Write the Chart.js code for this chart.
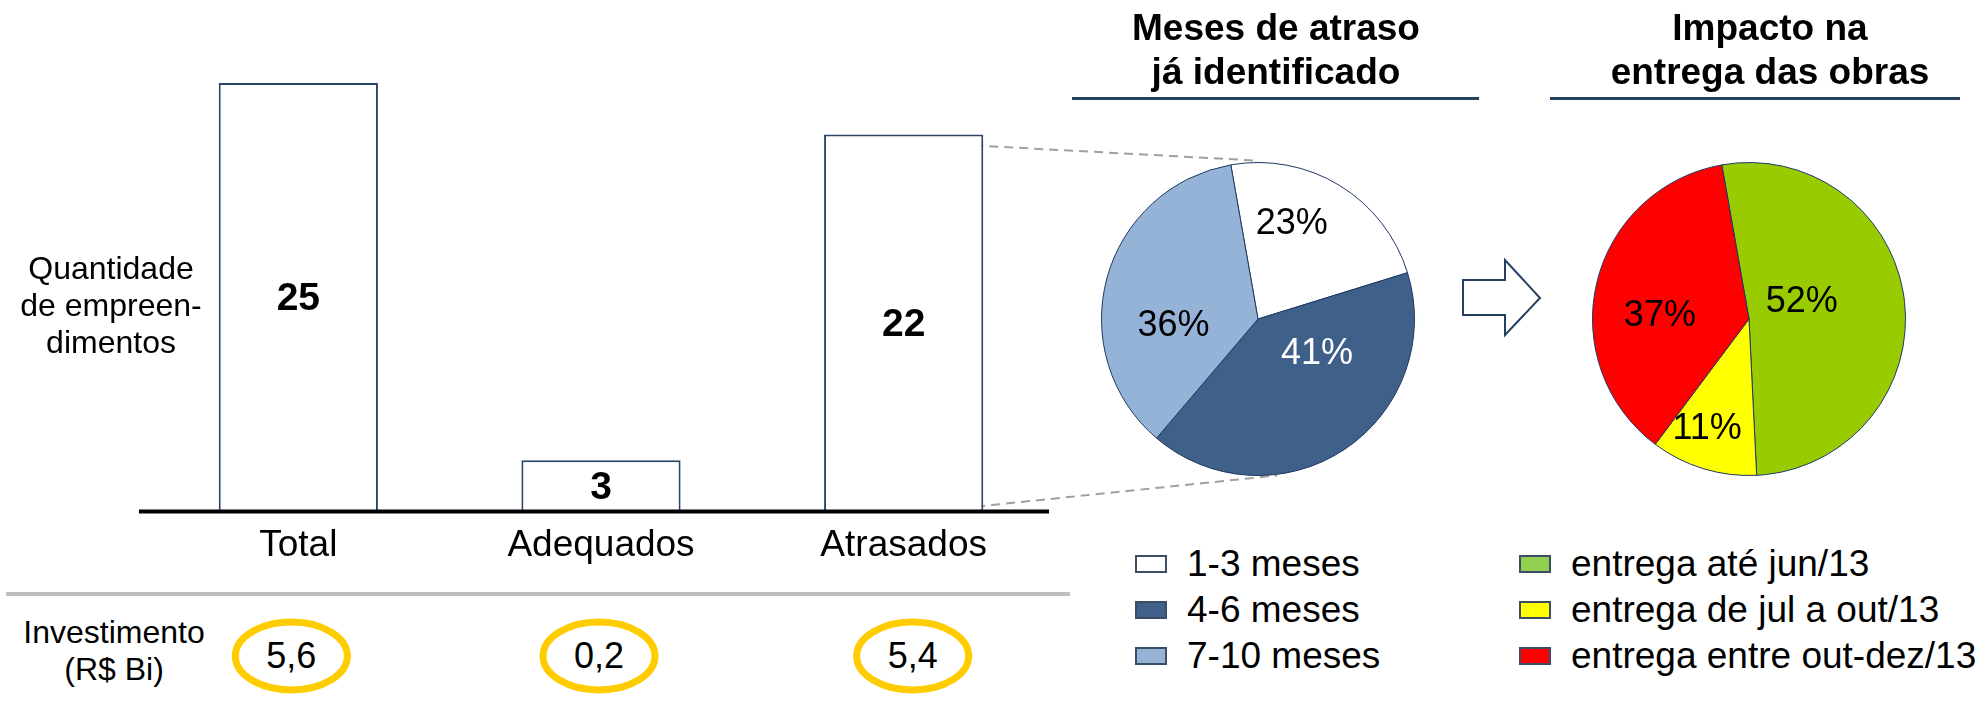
<!DOCTYPE html>
<html lang="pt-BR">
<head>
<meta charset="utf-8">
<title>Empreendimentos atrasados</title>
<script src="https://cdn.jsdelivr.net/npm/chart.js@4.4.1/dist/chart.umd.min.js"></script>
<style>
  html, body { margin: 0; padding: 0; background: #fff; }
  body { width: 1982px; height: 706px; position: relative; overflow: hidden;
         font-family: "Liberation Sans", Arial, sans-serif; color: #000; }
  canvas, svg { position: absolute; }
  .side { position: absolute; width: 200px; text-align: center; font-size: 32px; line-height: 37px; }
  .title { position: absolute; width: 500px; text-align: center; font-weight: bold; font-size: 37px; line-height: 44px; }
  .rule { position: absolute; height: 3px; background: #243F60; }
  .legend { position: absolute; font-size: 37px; }
  .legend .row { height: 46px; display: flex; align-items: center; white-space: nowrap; }
  .legend .box { width: 28px; height: 14px; border: 2px solid #3B4E66; margin-right: 20px; flex: none; }
  .inv { position: absolute; width: 120px; text-align: center; font-size: 36px; line-height: 40px; }
</style>
</head>
<body>

<svg id="deco" width="1982" height="706" style="left:0;top:0"></svg>

<canvas id="bars" width="1100" height="600" style="left:0;top:0"></canvas>
<canvas id="pieAtraso" width="320" height="320" style="left:1098px;top:159px"></canvas>
<canvas id="pieEntrega" width="320" height="320" style="left:1589px;top:159px"></canvas>

<div class="side" style="left:11px;top:250px">Quantidade<br>de empreen-<br>dimentos</div>
<div class="side" style="left:14px;top:614px">Investimento<br>(R$ Bi)</div>

<div class="title" style="left:1026px;top:6px">Meses de atraso<br>já identificado</div>
<div class="rule" style="left:1072px;top:97px;width:407px"></div>
<div class="title" style="left:1520px;top:6px">Impacto na<br>entrega das obras</div>
<div class="rule" style="left:1550px;top:97px;width:410px"></div>

<div class="legend" id="legAtraso" style="left:1135px;top:541px"></div>
<div class="legend" id="legEntrega" style="left:1519px;top:541px"></div>

<script>
const categorias = ['Total', 'Adequados', 'Atrasados'];
const quantidade = [25, 3, 22];
const investimento = [5.6, 0.2, 5.4];

const faixasAtraso = ['1-3 meses', '4-6 meses', '7-10 meses'];
const pctAtraso = [23, 41, 36];

const faixasEntrega = ['entrega até jun/13', 'entrega de jul a out/13', 'entrega entre out-dez/13'];
const pctEntrega = [52, 11, 37];

const FONT = '"Liberation Sans", Arial, sans-serif';
const NAVY = '#243F60';

// numbers in the middle of each bar + the thick black base line
const barValueLabels = {
    id: 'barValueLabels',
    afterDatasetsDraw(chart) {
        const ctx = chart.ctx;
        const area = chart.chartArea;
        const y0 = chart.scales.y.getPixelForValue(0);
        ctx.save();
        ctx.strokeStyle = '#000';
        ctx.lineWidth = 4;
        ctx.beginPath();
        ctx.moveTo(area.left - 8, y0);
        ctx.lineTo(area.right - 6, y0);
        ctx.stroke();

        ctx.font = 'bold 39px ' + FONT;
        ctx.fillStyle = '#000';
        ctx.textAlign = 'center';
        ctx.textBaseline = 'middle';
        chart.getDatasetMeta(0).data.forEach((bar, i) => {
            ctx.fillText(String(quantidade[i]), bar.x, (bar.y + bar.base) / 2 + 2);
        });
        ctx.restore();
    }
};

// percentages inside the slices
const pieLabels = {
    id: 'pieLabels',
    afterDatasetsDraw(chart, args, opts) {
        const ctx = chart.ctx;
        const values = chart.data.datasets[0].data;
        ctx.save();
        ctx.font = '36px ' + FONT;
        ctx.textAlign = 'center';
        ctx.textBaseline = 'middle';
        chart.getDatasetMeta(0).data.forEach((arc, i) => {
            const p = arc.getCenterPoint();
            const n = opts.nudge[i] || [0, 0];
            ctx.fillStyle = opts.colors[i];
            ctx.fillText(values[i] + '%', p.x + n[0], p.y + n[1]);
        });
        ctx.restore();
    }
};

const barChart = new Chart(document.getElementById('bars'), {
    type: 'bar',
    data: {
        labels: categorias,
        datasets: [{
            data: quantidade,
            backgroundColor: '#fff',
            borderColor: '#2B4566',
            borderWidth: 2,
            barPercentage: 0.526,
            categoryPercentage: 1
        }]
    },
    options: {
        responsive: false,
        animation: false,
        layout: { padding: { left: 147, right: 45, top: 83, bottom: 20 } },
        plugins: { legend: { display: false }, tooltip: { enabled: false } },
        scales: {
            y: { display: false, min: 0, max: 25 },
            x: {
                grid: { display: false, drawTicks: false },
                border: { display: false },
                ticks: { color: '#000', padding: 12, font: { size: 37, family: FONT } }
            }
        }
    },
    plugins: [barValueLabels]
});

function pieConfig(labels, values, colors, labelColors, nudge) {
    return {
        type: 'pie',
        data: {
            labels: labels,
            datasets: [{
                data: values,
                backgroundColor: colors,
                borderColor: '#1F3864',
                borderWidth: 1
            }]
        },
        options: {
            responsive: false,
            animation: false,
            rotation: -10,
            layout: { padding: 3 },
            plugins: {
                legend: { display: false },
                tooltip: { enabled: false },
                pieLabels: { colors: labelColors, nudge: nudge }
            }
        },
        plugins: [pieLabels]
    };
}

const coresAtraso = ['#FFFFFF', '#3F6089', '#95B3D7'];
const coresEntrega = ['#99CC00', '#FFFF00', '#FF0000'];

const pieA = new Chart(document.getElementById('pieAtraso'),
    pieConfig(faixasAtraso, pctAtraso, coresAtraso, ['#000', '#fff', '#000'],
        [[-7, -28], [16, -30], [-9, 28]]));
const pieB = new Chart(document.getElementById('pieEntrega'),
    pieConfig(faixasEntrega, pctEntrega, coresEntrega, ['#000', '#000', '#000'],
        [[-25, -8], [-19, 35], [-13, 15]]));

// legends
function buildLegend(id, labels, colors) {
    const el = document.getElementById(id);
    labels.forEach((txt, i) => {
        const row = document.createElement('div');
        row.className = 'row';
        const box = document.createElement('span');
        box.className = 'box';
        box.style.background = colors[i];
        row.appendChild(box);
        row.appendChild(document.createTextNode(txt));
        el.appendChild(row);
    });
}
buildLegend('legAtraso', faixasAtraso, coresAtraso);
buildLegend('legEntrega', faixasEntrega, ['#92D050', '#FFFF00', '#FF0000']);

// decoration: separator, connectors, arrow, investment rings
const svg = document.getElementById('deco');
const NS = 'http://www.w3.org/2000/svg';
function add(tag, attrs) {
    const e = document.createElementNS(NS, tag);
    for (const k in attrs) e.setAttribute(k, attrs[k]);
    svg.appendChild(e);
    return e;
}

add('line', { x1: 6, y1: 594, x2: 1070, y2: 594, stroke: '#BFBFBF', 'stroke-width': 4 });

const bars = barChart.getDatasetMeta(0).data;
const late = bars[2];
const arc0 = pieA.getDatasetMeta(0).data[0];
const pieCanvas = document.getElementById('pieAtraso');
const pcx = pieCanvas.offsetLeft + arc0.x;
const pcy = pieCanvas.offsetTop + arc0.y;
const pr = arc0.outerRadius;
const dash = { stroke: '#A0A0A0', 'stroke-width': 2, 'stroke-dasharray': '9 6' };
add('line', Object.assign({ x1: late.x + late.width / 2 - 9, y1: late.y + 11, x2: pcx - 3, y2: pcy - pr - 2 }, dash));
add('line', Object.assign({ x1: late.x + late.width / 2 - 7, y1: late.base - 5, x2: pcx + 19, y2: pcy + pr }, dash));

add('polygon', {
    points: '1463,280 1505,280 1505,260 1540,298 1505,335 1505,315 1463,315',
    fill: '#fff', stroke: NAVY, 'stroke-width': 2
});

const ringShift = [-7, -2, 9];
bars.forEach((bar, i) => {
    const cx = bar.x + ringShift[i];
    add('ellipse', { cx: cx, cy: 656, rx: 56, ry: 34, fill: 'none', stroke: '#FFCC00', 'stroke-width': 7 });
    const t = document.createElement('div');
    t.className = 'inv';
    t.style.left = (cx - 60) + 'px';
    t.style.top = '636px';
    t.textContent = investimento[i].toFixed(1).replace('.', ',');
    document.body.appendChild(t);
});
</script>
</body>
</html>
